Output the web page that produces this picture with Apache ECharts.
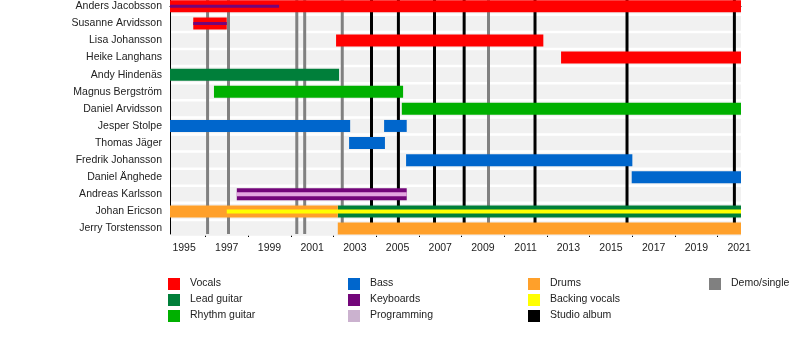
<!DOCTYPE html>
<html>
<head>
<meta charset="utf-8">
<script src="https://cdn.jsdelivr.net/npm/echarts@6/dist/echarts.min.js"></script>
<style>html,body{margin:0;padding:0;background:#fff}#c{width:800px;height:354px}</style>
</head>
<body>
<div id="c"></div>
<script>
// ---- data ----
const members = ["Anders Jacobsson","Susanne Arvidsson","Lisa Johansson","Heike Langhans","Andy Hindenäs","Magnus Bergström","Daniel Arvidsson","Jesper Stolpe","Thomas Jäger","Fredrik Johansson","Daniel Änghede","Andreas Karlsson","Johan Ericson","Jerry Torstensson"];
const startYear = 1994.34;
const endYear = 2021.09;
// [row, from, to]
const vocals = [[0,1994.34,2021.09],[1,1995.43,1997.0],[2,2002.12,2011.83],[3,2012.66,2021.09]];
const leadGuitar = [[4,1994.34,2002.26],[12,2002.2,2021.09]];
const rhythmGuitar = [[5,1996.4,2005.26],[6,2005.2,2021.09]];
const bass = [[7,1994.34,2002.78],[7,2004.37,2005.43],[8,2002.73,2004.41],[9,2005.4,2016.0],[10,2015.97,2021.09]];
const keyboards = [[11,1997.47,2005.43]];
const drums = [[12,1994.34,2002.2],[13,2002.2,2021.09]];
// secondary (thin) roles
const keyboardsThin = [[0,1994.34,1999.45],[1,1995.43,1997.0]];
const programmingThin = [[11,1997.47,2005.43]];
const backingVocalsThin = [[12,1997.0,2021.09]];
// events
const studioAlbums = [2003.78,2005.04,2006.73,2008.12,2011.44,2015.75,2020.78];
const demoSingles = [1996.1,1997.08,2000.28,2000.65,2002.41,2009.26];
// axis ticks
const labelYears = [1995,1997,1999,2001,2003,2005,2007,2009,2011,2013,2015,2017,2019,2021];
const minorYears = [1996,1998,2000,2002,2004,2006,2008,2010,2012,2014,2016,2018,2020];
// legend
const legendNames = ["Vocals","Lead guitar","Rhythm guitar","Bass","Keyboards","Programming","Drums","Backing vocals","Studio album","Demo/single"];
const colors = {
  "Vocals":"#ff0000","Lead guitar":"#007f3a","Rhythm guitar":"#00b000","Bass":"#0066cc",
  "Keyboards":"#73067a","Programming":"#cbb2cf","Drums":"#ffa02a","Backing vocals":"#ffff00",
  "Studio album":"#000000","Demo/single":"#808080"
};

// ---- chart ----
const chart = echarts.init(document.getElementById('c'), null, {renderer:'canvas'});
const rowIdx = members.map((_, i) => i);

function barSeries(name, data, h, z, fill) {
  return {
    type:'custom', name, z, data, encode:{x:[1,2], y:0},
    renderItem(params, api){
      const r = api.value(0);
      const a = api.coord([api.value(1), r]);
      const b = api.coord([api.value(2), r]);
      return {type:'rect', shape:{x:a[0], y:a[1]-h/2, width:b[0]-a[0], height:h}, style:{fill: fill || colors[name]}};
    }
  };
}
function lineSeries(name, data, w, z) {
  return {
    type:'custom', name, z, data: data.map(v=>[v]), encode:{x:0},
    renderItem(params, api){
      const cs = params.coordSys;
      const p = api.coord([api.value(0), 0]);
      return {type:'line', shape:{x1:p[0], y1:cs.y, x2:p[0], y2:cs.y+cs.height}, style:{stroke:colors[name], lineWidth:w}};
    }
  };
}

const font = "'Liberation Sans', Arial, sans-serif";
const graphics = [];
legendNames.forEach((n, i) => {
  const col = Math.floor(i/3), row = i%3;
  const colX = [168, 348, 528, 709][col];
  const cy = [284, 300, 316][row];
  graphics.push({type:'rect', left:colX, top:cy-6, shape:{width:12, height:12}, style:{fill:colors[n]}});
  graphics.push({type:'text', left:colX+22, top:cy-6, style:{text:n, fill:'#222', font:'10.5px ' + font, verticalAlign:'top'}});
});

chart.setOption({
  animation:false,
  grid:{left:170, right:59, top:0, bottom:120, containLabel:false},
  xAxis:[{
    type:'value', min:startYear, max:endYear,
    axisLine:{show:true, lineStyle:{color:'#000', width:1}},
    axisTick:{show:true, length:5, lineStyle:{color:'#000'}, customValues:labelYears},
    axisLabel:{show:true, customValues:labelYears, margin:9, color:'#222', fontSize:10.5, fontFamily:font, formatter:v=>String(Math.round(v))},
    splitLine:{show:false}
  },{
    type:'value', min:startYear, max:endYear, position:'bottom',
    axisLine:{show:false},
    axisTick:{show:true, length:3, lineStyle:{color:'#000'}, customValues:minorYears},
    axisLabel:{show:false, customValues:minorYears},
    splitLine:{show:false}
  }],
  yAxis:{
    type:'value', inverse:true, min:-0.368, max:13.322,
    axisLine:{show:true, lineStyle:{color:'#000', width:1}},
    axisTick:{show:false},
    axisLabel:{show:true, customValues:rowIdx, margin:8, color:'#222', fontSize:10.5, fontFamily:font, formatter:v=>members[Math.round(v)] || ''},
    splitLine:{show:false}
  },
  graphic: graphics,
  series:[
    {
      type:'custom', name:'bg', z:1, data: rowIdx.map(i=>[i]), encode:{y:0},
      renderItem(params, api){
        const cs = params.coordSys;
        const p = api.coord([startYear, api.value(0)]);
        return {type:'rect', shape:{x:cs.x+1, y:p[1]-7.3, width:cs.width-1, height:14.6}, style:{fill:'#f1f1f1'}};
      }
    },
    lineSeries('Demo/single', demoSingles, 3, 2),
    lineSeries('Studio album', studioAlbums, 3, 2),
    barSeries('Vocals', vocals, 12, 3),
    barSeries('Lead guitar', leadGuitar, 12, 3),
    barSeries('Rhythm guitar', rhythmGuitar, 12, 3),
    barSeries('Bass', bass, 12, 3),
    barSeries('Keyboards', keyboards, 12, 3),
    barSeries('Drums', drums, 12, 3),
    barSeries('KeyboardsThin', keyboardsThin, 3, 4, colors['Keyboards']),
    barSeries('ProgrammingThin', programmingThin, 4, 4, '#e3a6e0'),
    barSeries('BackingThin', backingVocalsThin, 4, 4, colors['Backing vocals'])
  ]
});
</script>
</body>
</html>
